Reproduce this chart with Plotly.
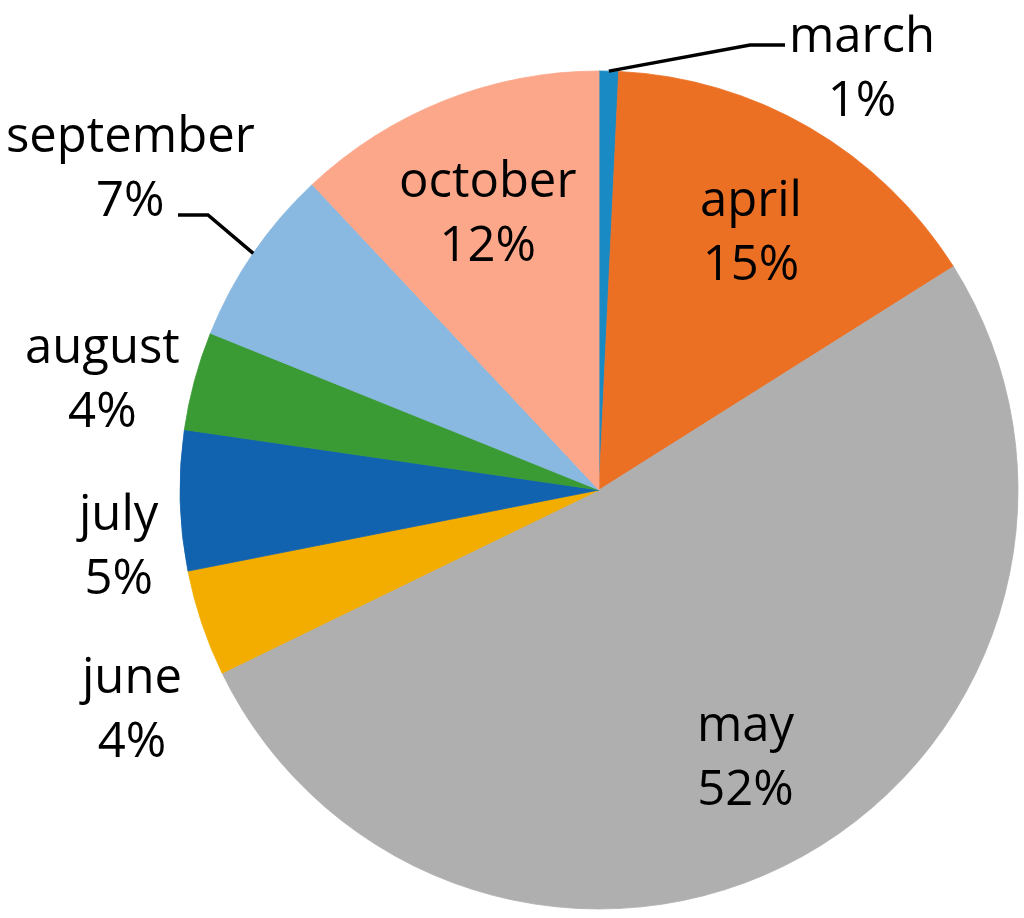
import math
import plotly.graph_objects as go

months = ['march', 'april', 'may', 'june', 'july', 'august', 'september', 'october']
shares = [0.75, 15.3, 51.75, 4.1, 5.4, 3.8, 6.9, 12.0]
colors = ['#1A8AC4', '#EC7024', '#AFAFAF', '#F2AD00', '#1263AF', '#3A9B34', '#89B8E0', '#FCA78A']

# labels outside the pie: pixel centre of the text block
outside_pos = {
    'march': (862, 65),
    'september': (130, 165),
    'august': (102, 376),
    'july': (117, 543),
    'june': (130, 706),
}
# leader lines: (elbow, end) in pixels
leaders = {
    'march': [(750, 45), (785, 45)],
    'september': [(208, 215), (178, 215)],
}

W, H = 1024, 918
cx, cy, r = 599, 490, 419
FONT = dict(family='Open Sans', size=49, color='black')


def px(x, y):
    return x / W, 1 - y / H


fig = go.Figure(go.Pie(
    labels=months,
    values=shares,
    sort=False,
    direction='clockwise',
    rotation=0,
    marker=dict(colors=colors, line=dict(color=colors, width=0.8)),
    textinfo='none',
    automargin=False,
    showlegend=False,
    hoverinfo='label+percent',
    domain=dict(x=[(cx - r) / W, (cx + r) / W], y=[(H - cy - r) / H, (H - cy + r) / H]),
))

total = sum(shares)
cum = 0
annotations = []
shapes = []
for name, v in zip(months, shares):
    ang = 2 * math.pi * (cum + v / 2) / total
    cum += v
    text = '{}<br>{}%'.format(name, round(100 * v / total))
    if name in outside_pos:
        x, y = outside_pos[name]
    else:
        x = cx + 0.72 * r * math.sin(ang)
        y = cy - 0.72 * r * math.cos(ang)
    ax, ay = px(x, y)
    annotations.append(dict(x=ax, y=ay, xref='paper', yref='paper', text=text,
                            showarrow=False, font=FONT, xanchor='center', yanchor='middle'))
    if name in leaders:
        pts = [(cx + r * math.sin(ang), cy - r * math.cos(ang))] + leaders[name]
        path = 'M ' + ' L '.join('{:.4f},{:.4f}'.format(*px(a, b)) for a, b in pts)
        shapes.append(dict(type='path', path=path, xref='paper', yref='paper',
                           line=dict(color='black', width=3.5)))

fig.update_layout(
    width=W, height=H,
    margin=dict(l=0, r=0, t=0, b=0),
    paper_bgcolor='white',
    annotations=annotations,
    shapes=shapes,
)

fig.write_html("out.html", config={'displayModeBar': False},
               post_script="document.body.style.margin='0';")
